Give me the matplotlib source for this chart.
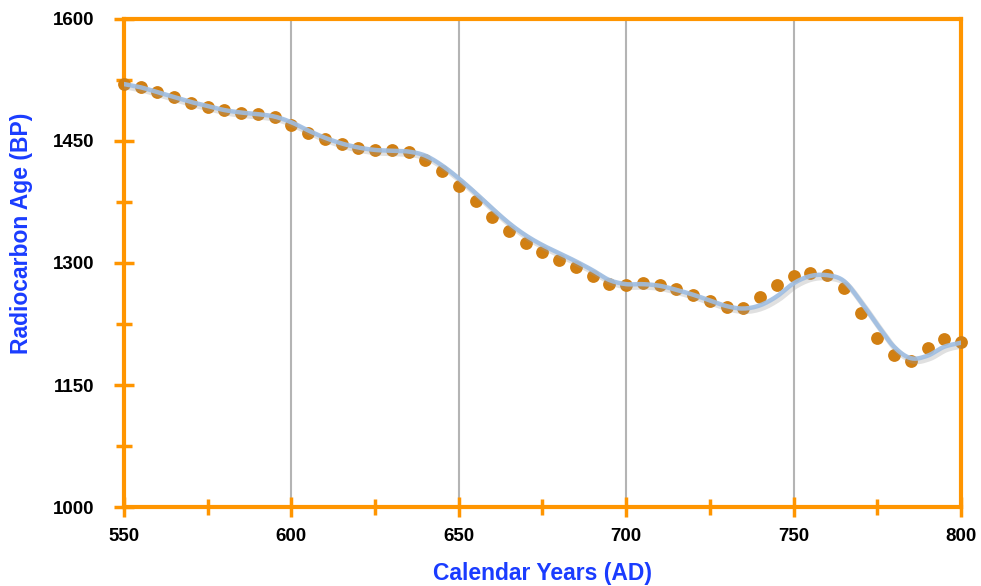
import numpy as np
import matplotlib.pyplot as plt
import matplotlib.patheffects as pe

plt.rcParams['font.family'] = ['Liberation Sans', 'DejaVu Sans']

# measured radiocarbon ages, every 5 calendar years
years = list(range(550, 801, 5))
ages = [1520, 1516, 1510, 1504, 1497, 1492, 1488, 1484, 1483, 1480,
        1470, 1460, 1452, 1446, 1441, 1439, 1439, 1436, 1427, 1413,
        1395, 1376, 1357, 1339, 1325, 1314, 1304, 1295, 1284, 1274,
        1273, 1275, 1273, 1268, 1261, 1253, 1246, 1245, 1258, 1273,
        1284, 1288, 1285, 1269, 1239, 1208, 1187, 1180, 1195, 1207,
        1203]

# calibration curve values at the same years
curve = [1520, 1516, 1510, 1504, 1498, 1493, 1488, 1485, 1483, 1480,
         1473, 1463, 1454, 1447, 1442, 1439, 1438, 1437, 1432, 1420,
         1404, 1386, 1367, 1349, 1334, 1322, 1312, 1302, 1291, 1279,
         1274, 1274, 1272, 1267, 1261, 1254, 1247, 1244, 1248, 1259,
         1275, 1284, 1285, 1278, 1253, 1224, 1197, 1183, 1186, 1197,
         1202]


def smooth(x, y, n=8):
    # Catmull-Rom curve through the points, like a smoothed line in a spreadsheet
    x = np.asarray(x, float)
    y = np.asarray(y, float)
    px = np.concatenate([[2 * x[0] - x[1]], x, [2 * x[-1] - x[-2]]])
    py = np.concatenate([[2 * y[0] - y[1]], y, [2 * y[-1] - y[-2]]])
    xs, ys = [], []
    t = np.linspace(0, 1, n, endpoint=False)
    for i in range(1, len(px) - 2):
        for p, out in ((px, xs), (py, ys)):
            p0, p1, p2, p3 = p[i - 1], p[i], p[i + 1], p[i + 2]
            out.extend(0.5 * (2 * p1 + (-p0 + p2) * t
                              + (2 * p0 - 5 * p1 + 4 * p2 - p3) * t ** 2
                              + (-p0 + 3 * p1 - 3 * p2 + p3) * t ** 3))
    xs.append(x[-1])
    ys.append(y[-1])
    return xs, ys


orange = '#ff9500'

fig = plt.figure(figsize=(9.81, 5.86), dpi=100)
ax = fig.add_axes([0.1264, 0.1348, 0.8532, 0.8328])

ax.scatter(years, ages, s=85, color='#d17f12', zorder=3, clip_on=False,
           linewidths=0)

cx, cy = smooth(years, curve)
ax.plot(cx, cy, color='#9ebde2', lw=3.2, alpha=0.9, zorder=4,
        solid_capstyle='round',
        path_effects=[pe.SimpleLineShadow(offset=(1.5, -2), shadow_color='#999999',
                                          alpha=0.3, linewidth=4),
                      pe.Normal()])

ax.set_xlim(550, 800)
ax.set_ylim(1000, 1600)
ax.set_xticks(range(550, 801, 50))
ax.set_xticks(range(575, 800, 50), minor=True)
ax.set_yticks(range(1000, 1601, 150))
ax.set_yticks(range(1075, 1600, 150), minor=True)

ax.grid(axis='x', which='major', color='#b4b4b4', lw=1.5, zorder=0)

for s in ax.spines.values():
    s.set_color(orange)
    s.set_linewidth(3)
    s.set_zorder(2)

ax.tick_params(which='both', direction='inout', color=orange, width=2.5,
               labelsize=13.5)
ax.tick_params(which='major', length=14)
ax.tick_params(which='minor', length=12)
ax.tick_params(axis='x', pad=8)
ax.tick_params(axis='y', pad=14)
for lab in ax.get_xticklabels() + ax.get_yticklabels():
    lab.set_fontweight('bold')

ax.set_xlabel('Calendar Years (AD)', color='#1a3cff', fontsize=16.5,
              fontweight='bold', labelpad=12)
ax.set_ylabel('Radiocarbon Age (BP)', color='#1a3cff', fontsize=16.5,
              fontweight='bold')
ax.yaxis.set_label_coords(-0.1087, 0.561)

fig.savefig('out.png', dpi=100)
